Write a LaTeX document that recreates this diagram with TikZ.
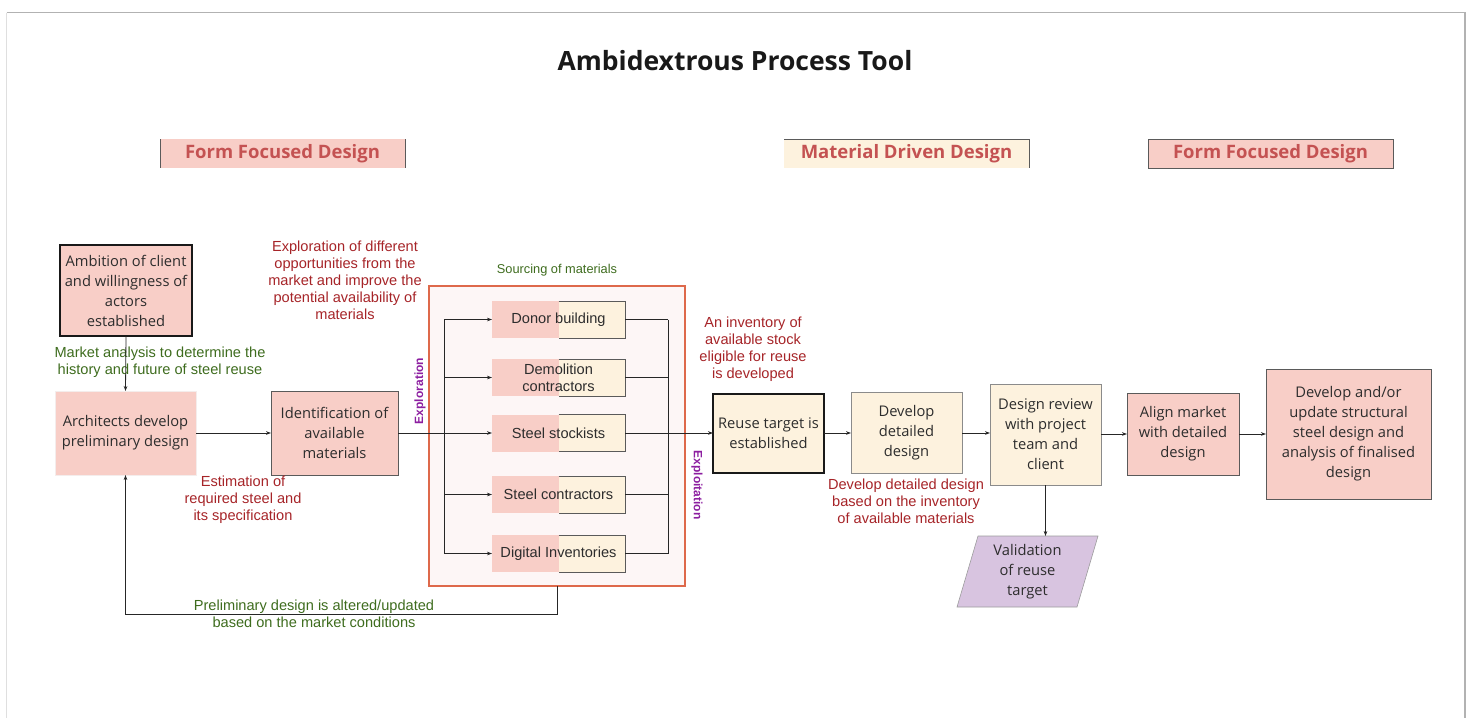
\documentclass[tikz,border=0pt]{standalone}
\usepackage{fontspec}
\newfontfamily\boxfont{Open Sans}
\newfontfamily\lblfont{Liberation Sans}
\usetikzlibrary{arrows.meta}
\definecolor{pinkc}{RGB}{248,206,199}
\definecolor{creamc}{RGB}{253,242,222}
\definecolor{lavc}{RGB}{216,196,224}
\definecolor{redtxt}{RGB}{166,36,40}
\definecolor{greentxt}{RGB}{62,108,30}
\definecolor{purptxt}{RGB}{140,30,160}
\definecolor{headtxt}{RGB}{196,82,82}
\definecolor{framec}{RGB}{222,105,75}
\definecolor{framefill}{RGB}{253,246,246}
\definecolor{edgec}{RGB}{90,90,90}
\definecolor{inkc}{RGB}{45,45,45}
\begin{document}
\begin{tikzpicture}[x=1pt,y=-1pt,
  every node/.style={inner sep=0pt, outer sep=0pt},
  fbox/.style={rectangle, align=center, text=inkc, font=\boxfont\fontsize{14.7}{20}\selectfont},
  pinkbox/.style={fbox, fill=pinkc, draw=edgec, line width=0.6pt},
  creambox/.style={fbox, fill=creamc, draw=edgec!70, line width=0.6pt},
  keybox/.style={draw=black!90, line width=2pt},
  lbl/.style={align=center, font=\lblfont\fontsize{14.6}{17}\selectfont},
  redlbl/.style={lbl, text=redtxt},
  greenlbl/.style={lbl, text=greentxt},
  phase/.style={font=\boxfont\bfseries\fontsize{18.5}{20}\selectfont, text=headtxt,
    minimum width=245pt, minimum height=29pt},
  src/.style={align=center, text=inkc, font=\lblfont\fontsize{14.6}{17}\selectfont,
    minimum width=133pt, minimum height=37pt,
    path picture={
      \fill[pinkc] (path picture bounding box.south west) rectangle (path picture bounding box.north);
      \fill[creamc] (path picture bounding box.south) rectangle (path picture bounding box.north east);
    }},
  arr/.style={-{Stealth[length=5pt,width=3.6pt]}, line width=0.8pt, draw=black!85},
  wire/.style={line width=0.8pt, draw=black!85},
  vlbl/.style={font=\lblfont\bfseries\fontsize{12}{14}\selectfont, text=purptxt}
]
\useasboundingbox (0,0) rectangle (1470,718);

% page frame
\draw[gray!25, line width=1.2pt] (6.5,12.5) -- (6.5,718);
\draw[gray!60, line width=1.2pt] (6.5,12.5) -- (1465,12.5) -- (1465,718);

% title
\node[font=\boxfont\bfseries\fontsize{26.5}{30}\selectfont, text=black!90] (title) at (735,61) {Ambidextrous Process Tool};

% phase headers
\node[phase, fill=pinkc] (ph1) at (282.5,153.5) {Form Focused Design};
\draw[edgec, line width=0.8pt] (ph1.north west) -- (ph1.south west) (ph1.north east) -- (ph1.south east);
\node[phase, fill=creamc] (ph2) at (906.5,153.5) {Material Driven Design};
\draw[edgec, line width=0.8pt] (ph2.north west) -- (ph2.north east) -- (ph2.south east);
\node[phase, fill=pinkc, draw=edgec, line width=0.8pt] (ph3) at (1270.5,153.5) {Form Focused Design};

% form focused start
\node[pinkbox, keybox, minimum width=132pt, minimum height=91pt] (amb) at (126,290.5)
  {Ambition of client\\and willingness of\\actors\\established};
\node[pinkbox, draw=pinkc!80!black!20, minimum width=141pt, minimum height=84pt] (arch) at (125.5,433)
  {Architects develop\\preliminary design};
\node[pinkbox, minimum width=127pt, minimum height=84pt] (ident) at (334.5,433)
  {Identification of\\available\\materials};

\node[greenlbl] (mkt) at (160,362.5) {Market analysis to determine the\\history and future of steel reuse};
\node[redlbl] (est) at (243,499.5) {Estimation of\\required steel and\\its specification};
\node[redlbl] (expl) at (345,280) {Exploration of different\\opportunities from the\\market and improve the\\potential availability of\\materials};

\draw[arr] (amb.south) -- (arch.north);
\draw[arr] (arch.east) -- (ident.west);

% sourcing of materials
\node[draw=framec, fill=framefill, line width=2pt, minimum width=256pt, minimum height=300pt] (frame) at (557,436) {};
\node[greenlbl, font=\lblfont\fontsize{12.8}{14}\selectfont] (srclbl) at (557,270.5) {Sourcing of materials};

\node[src] (donor) at (558.5,319.5) {Donor building};
\node[src] (demo) at (558.5,377.5) {Demolition\\contractors};
\node[src] (stock) at (558.5,433) {Steel stockists};
\node[src] (scon) at (558.5,494.5) {Steel contractors};
\node[src] (digi) at (558.5,553.5) {Digital Inventories};
\foreach \n in {donor,demo,stock,scon,digi}
  \draw[edgec, line width=0.7pt] (\n.north) -- (\n.north east) -- (\n.south east) -- (\n.south);

\coordinate (bl) at (444,0);
\coordinate (br) at (668,0);
\draw[wire] (ident.east) -- (bl |- ident.east);
\draw[wire] (bl |- donor.west) -- (bl |- digi.west);
\draw[wire] (br |- donor.east) -- (br |- digi.east);
\foreach \n in {donor,demo,stock,scon,digi} {
  \draw[arr] (bl |- \n.west) -- (\n.west);
  \draw[wire] (\n.east) -- (br |- \n.east);
}

\node[vlbl, rotate=90] (explor) at (420,391) {Exploration};
\node[vlbl, rotate=-90] (exploit) at (697,485) {Exploitation};

% feedback loop
\coordinate (fbk) at (0,614);
\draw[arr] (frame.south) -- (frame.south |- fbk) -| (arch.south);
\node[greenlbl] (fblbl) at (314,613.5) {Preliminary design is altered/updated\\based on the market conditions};

% material driven part
\node[creambox, keybox, minimum width=111pt, minimum height=79pt] (reuse) at (768.5,433)
  {Reuse target is\\established};
\draw[arr] (br |- reuse.west) -- (reuse.west);
\node[redlbl] (inv) at (753,349) {An inventory of\\available stock\\eligible for reuse\\is developed};

\node[creambox, minimum width=111pt, minimum height=81pt] (dev) at (906.5,433)
  {Develop\\detailed\\design};
\node[redlbl] (devlbl) at (906,501.5) {Develop detailed design\\based on the inventory\\of available materials};

\node[creambox, minimum width=111pt, minimum height=101pt] (review) at (1045.5,434.5)
  {Design review\\with project\\team and\\client};

% validation parallelogram
\fill[lavc] (957,607) -- (1077,607) -- (1098,536) -- (978,536) -- cycle;
\draw[edgec!60, line width=0.6pt] (957,607) -- (1077,607) -- (1098,536) -- (978,536) -- cycle;
\node[fbox, minimum width=120pt, minimum height=71pt] (val) at (1027.5,571.5) {Validation\\of reuse\\target};

% form focused end
\node[pinkbox, minimum width=112pt, minimum height=82pt] (align) at (1183,434)
  {Align market\\with detailed\\design};
\node[pinkbox, minimum width=165pt, minimum height=130pt] (final) at (1348.5,434)
  {Develop and/or\\update structural\\steel design and\\analysis of finalised\\design};

\draw[arr] (reuse.east) -- (reuse.east -| dev.west);
\draw[arr] (dev.east) -- (dev.east -| review.west);
\draw[arr] (review.south) -- (review.south |- val.north);
\draw[arr] (review.east |- align.west) -- (align.west);
\draw[arr] (align.east) -- (align.east -| final.west);
\end{tikzpicture}
\end{document}
